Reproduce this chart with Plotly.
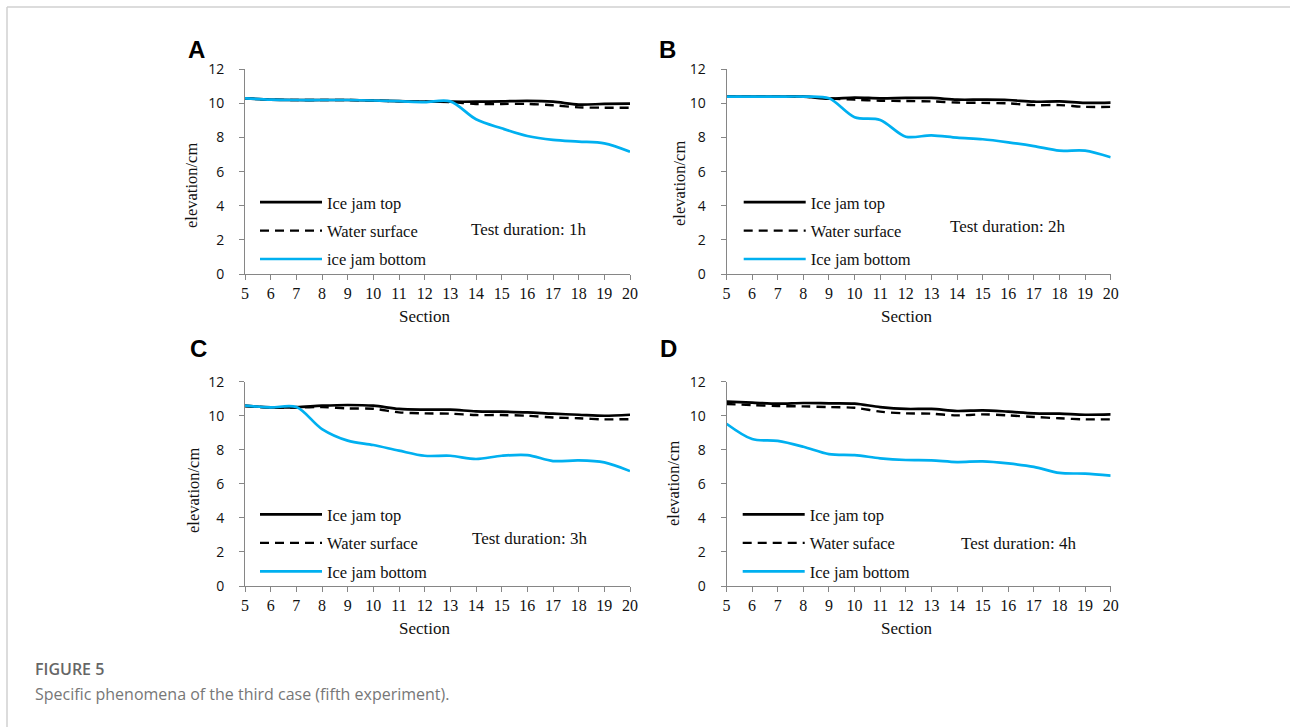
import plotly.graph_objects as go

PAGE_W, PAGE_H = 1290, 727
OFF = 0  # body margin is removed by the post script below
W, H = PAGE_W - 2 * OFF, PAGE_H - 2 * OFF

def px(x):
    return (x - OFF) / W

def py(y):
    return 1 - (y - OFF) / H

# ---------------- data ----------------
sections = list(range(5, 21))

A_top = [10.30, 10.22, 10.20, 10.20, 10.20, 10.17, 10.13, 10.10, 10.10, 10.10, 10.12, 10.15, 10.10, 9.93, 9.97, 9.99]
A_water = [10.30, 10.22, 10.20, 10.20, 10.20, 10.17, 10.13, 10.10, 10.08, 9.97, 9.97, 9.97, 9.89, 9.77, 9.75, 9.75]
A_bottom = [10.30, 10.22, 10.20, 10.20, 10.20, 10.17, 10.13, 10.08, 10.12, 9.07, 8.54, 8.09, 7.86, 7.76, 7.66, 7.17]

B_top = [10.40, 10.40, 10.40, 10.40, 10.28, 10.34, 10.30, 10.32, 10.32, 10.22, 10.22, 10.20, 10.10, 10.12, 10.03, 10.05]
B_water = [10.40, 10.40, 10.40, 10.40, 10.30, 10.22, 10.16, 10.14, 10.12, 10.05, 10.03, 10.00, 9.90, 9.90, 9.80, 9.80]
B_bottom = [10.40, 10.40, 10.40, 10.40, 10.30, 9.19, 9.03, 8.05, 8.13, 7.99, 7.90, 7.72, 7.50, 7.23, 7.23, 6.84]

C_top = [10.59, 10.49, 10.51, 10.59, 10.63, 10.59, 10.40, 10.36, 10.36, 10.26, 10.24, 10.20, 10.12, 10.06, 10.00, 10.06]
C_water = [10.55, 10.49, 10.48, 10.51, 10.43, 10.41, 10.20, 10.14, 10.12, 10.04, 10.04, 10.00, 9.90, 9.85, 9.79, 9.80]
C_bottom = [10.59, 10.49, 10.51, 9.22, 8.54, 8.28, 7.95, 7.65, 7.65, 7.46, 7.65, 7.69, 7.34, 7.38, 7.26, 6.75]

D_top = [10.83, 10.77, 10.71, 10.75, 10.73, 10.71, 10.51, 10.40, 10.40, 10.28, 10.32, 10.24, 10.14, 10.12, 10.06, 10.08]
D_water = [10.69, 10.63, 10.57, 10.55, 10.51, 10.47, 10.24, 10.14, 10.12, 10.02, 10.08, 10.02, 9.93, 9.85, 9.79, 9.79]
D_bottom = [9.53, 8.63, 8.52, 8.18, 7.75, 7.69, 7.50, 7.40, 7.38, 7.28, 7.32, 7.20, 7.00, 6.64, 6.60, 6.48]

panel_letters = ["A", "B", "C", "D"]
durations = ["Test duration: 1h", "Test duration: 2h", "Test duration: 3h", "Test duration: 4h"]
names_top = ["Ice jam top", "Ice jam top", "Ice jam top", "Ice jam top"]
names_water = ["Water surface", "Water surface", "Water surface", "Water suface"]
names_bottom = ["ice jam bottom", "Ice jam bottom", "Ice jam bottom", "Ice jam bottom"]
tops = [A_top, B_top, C_top, D_top]
waters = [A_water, B_water, C_water, D_water]
bottoms = [A_bottom, B_bottom, C_bottom, D_bottom]

y_ticks = [0, 2, 4, 6, 8, 10, 12]
x_title = "Section"
y_title = "elevation/cm"

# ---------------- layout geometry (reference page pixels) ----------------
# leg = (left x of legend sample line, centre y of first legend row)
geom = [
    dict(x0=245.0, x1=630.0, yt=69.3, yb=274.0, lab=(196.5, 49.7), dur=(468.7, 229), leg=(259, 202.7),
         ytit=(191, 186), xtit=(424, 316)),
    dict(x0=726.5, x1=1110.7, yt=69.3, yb=274.0, lab=(667.5, 49.0), dur=(948.0, 227), leg=(742.7, 202.7),
         ytit=(679, 184), xtit=(906, 316)),
    dict(x0=245.0, x1=630.0, yt=381.7, yb=586.0, lab=(198, 349), dur=(470.0, 538), leg=(259, 515),
         ytit=(193, 491), xtit=(424, 628)),
    dict(x0=726.5, x1=1110.7, yt=381.7, yb=586.0, lab=(668, 349), dur=(958.7, 543), leg=(741.7, 515),
         ytit=(673, 484), xtit=(906, 628)),
]

BLACK = "#000000"
BLUE = "#00B0F0"
AXIS = "#868686"
TXT = "#111111"
SERIF = "Liberation Serif, Times New Roman, serif"
SANS = "Open Sans, Noto Sans, sans-serif"

fig = go.Figure()
layout = dict(
    width=W, height=H,
    margin=dict(l=0, r=0, t=0, b=0, pad=0, autoexpand=False),
    paper_bgcolor="white", plot_bgcolor="white",
    showlegend=True,
    annotations=[], shapes=[],
)

for i in range(4):
    g = geom[i]
    n = "" if i == 0 else str(i + 1)
    leg = "legend" if i == 0 else "legend" + str(i + 1)
    xa, ya = "x" + n, "y" + n
    common = dict(x=sections, xaxis=xa, yaxis=ya, legend=leg, mode="lines",
                  line_shape="spline", hoverinfo="x+y")
    fig.add_trace(go.Scatter(y=tops[i], name=names_top[i], legendgroup=f"t{i}",
                             line=dict(color=BLACK, width=2.7, smoothing=0.9), **common))
    fig.add_trace(go.Scatter(y=waters[i], name=names_water[i], legendgroup=f"w{i}",
                             line=dict(color=BLACK, width=2.4, dash="9px,6px", smoothing=0.9), **common))
    fig.add_trace(go.Scatter(y=bottoms[i], name=names_bottom[i], legendgroup=f"b{i}",
                             line=dict(color=BLUE, width=2.7, smoothing=0.9), **common))

    layout["xaxis" + n] = dict(
        domain=[px(g["x0"]), px(g["x1"])], anchor=ya, automargin=False,
        range=[5, 20], tickmode="array", tickvals=sections, ticktext=[str(s) for s in sections],
        showgrid=False, zeroline=False, showline=True, linecolor=AXIS, linewidth=1,
        ticks="outside", ticklen=5, tickcolor=AXIS, tickwidth=1,
        tickfont=dict(family=SERIF, size=16, color=TXT),
        fixedrange=True,
    )
    layout["yaxis" + n] = dict(
        domain=[py(g["yb"]), py(g["yt"])], anchor=xa, automargin=False,
        range=[0, 12], tickmode="array", tickvals=y_ticks,
        showgrid=False, zeroline=False, showline=True, linecolor=AXIS, linewidth=1,
        ticks="outside", ticklen=5, tickcolor=AXIS, tickwidth=1,
        ticklabelstandoff=12,
        tickfont=dict(family=SANS, size=14, color=TXT),
        fixedrange=True,
    )
    lx, ly = g["leg"]
    layout[leg] = dict(
        x=px(lx - 4), y=py(ly - 17.8), xanchor="left", yanchor="top",
        bgcolor="rgba(0,0,0,0)", borderwidth=0,
        font=dict(family=SERIF, size=16.5, color=TXT),
        tracegroupgap=4, itemwidth=62,
    )
    layout["annotations"].append(dict(
        text=panel_letters[i], x=px(g["lab"][0]), y=py(g["lab"][1]), xref="paper", yref="paper",
        xanchor="center", yanchor="middle", showarrow=False,
        font=dict(family="Liberation Sans, Arial, sans-serif", size=24, color="#000", weight="bold"),
    ))
    layout["annotations"].append(dict(
        text=durations[i], x=px(g["dur"][0]), y=py(g["dur"][1]), xref="paper", yref="paper",
        xanchor="left", yanchor="middle", showarrow=False,
        font=dict(family=SERIF, size=17, color=TXT),
    ))
    layout["annotations"].append(dict(
        text=y_title, x=px(g["ytit"][0]), y=py(g["ytit"][1]), xref="paper", yref="paper",
        xanchor="center", yanchor="middle", textangle=-90, showarrow=False,
        font=dict(family=SERIF, size=16.5, color=TXT),
    ))
    layout["annotations"].append(dict(
        text=x_title, x=px(g["xtit"][0]), y=py(g["xtit"][1]), xref="paper", yref="paper",
        xanchor="center", yanchor="middle", showarrow=False,
        font=dict(family=SERIF, size=17, color=TXT),
    ))

# caption
layout["annotations"].append(dict(
    text="FIGURE 5", x=px(33), y=py(669), xref="paper", yref="paper",
    xanchor="left", yanchor="middle", showarrow=False,
    font=dict(family=SANS, size=16, color="#666666", weight=600),
))
layout["annotations"].append(dict(
    text="Specific phenomena of the third case (fifth experiment).", x=px(33), y=py(694),
    xref="paper", yref="paper", xanchor="left", yanchor="middle", showarrow=False,
    font=dict(family=SANS, size=16, color="#777777"),
))

# page frame
layout["shapes"].append(dict(type="line", xref="paper", yref="paper",
                             x0=px(7), x1=1, y0=py(7), y1=py(7),
                             line=dict(color="#d0d0d0", width=1.5)))
layout["shapes"].append(dict(type="line", xref="paper", yref="paper",
                             x0=px(7), x1=px(7), y0=py(7), y1=0,
                             line=dict(color="#d0d0d0", width=1.5)))

fig.update_layout(**layout)
fig.write_html("out.html", config={"displayModeBar": False},
               post_script="document.body.style.margin='0';")
